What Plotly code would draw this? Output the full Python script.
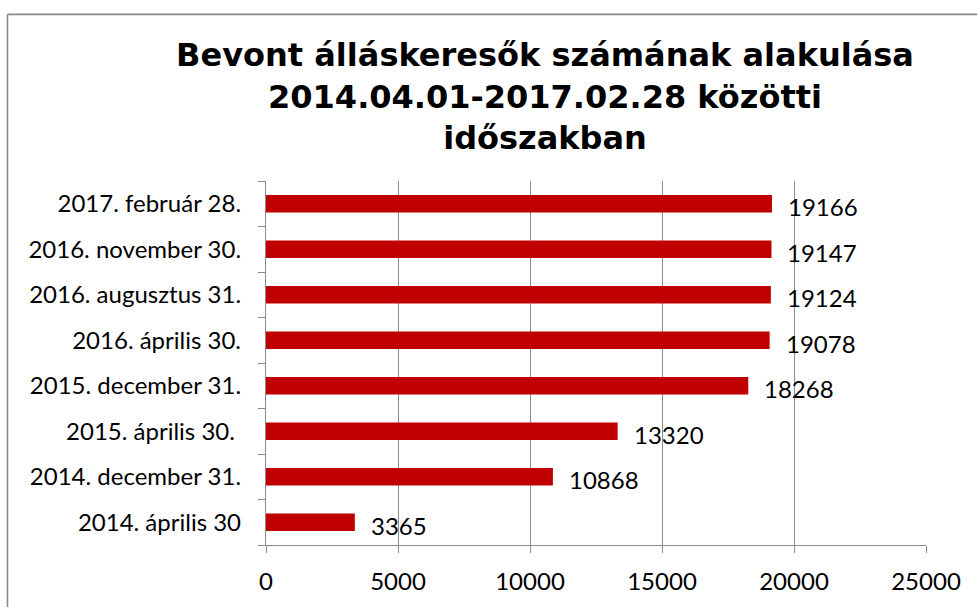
import plotly.graph_objects as go

categories = [
    "2014. április 30",
    "2014. december 31.",
    "2015. április 30. ",
    "2015. december 31.",
    "2016. április 30.",
    "2016. augusztus 31.",
    "2016. november 30.",
    "2017. február 28.",
]
values = [3365, 10868, 13320, 18268, 19078, 19124, 19147, 19166]
x_ticks = [0, 5000, 10000, 15000, 20000, 25000]

title_text = "Bevont álláskeresők számának alakulása<br>2014.04.01-2017.02.28 közötti<br>időszakban"

L, R, T, B = 266, 51, 181, 58
W, H = 977, 607
pw, ph = W - L - R, H - T - B

label_font = dict(family="Lato, Carlito, Calibri, sans-serif", size=24, color="#000000")
grid_col = "#8c8c8c"
border_col = "#8a8a8a"

fig = go.Figure()
fig.add_trace(go.Bar(
    y=categories,
    x=values,
    orientation="h",
    marker=dict(color="#C00000", line=dict(width=0)),
    hoverinfo="x+y",
))

for c, v in zip(categories, values):
    fig.add_annotation(
        x=v, y=c, xref="x", yref="y",
        text=str(v), showarrow=False,
        xanchor="left", yanchor="middle",
        xshift=14, yshift=-3,
        font=label_font,
    )

fig.update_layout(
    width=W, height=H,
    margin=dict(l=L, r=R, t=T, b=B, pad=0),
    paper_bgcolor="white",
    plot_bgcolor="white",
    bargap=0.61,
    showlegend=False,
    title=dict(
        text=title_text,
        x=545 / W, xanchor="center", xref="container",
        y=1 - 66 / H, yanchor="top", yref="container",
        font=dict(family="DejaVu Sans, Verdana, sans-serif", size=32, color="#000000", weight="bold"),
    ),
    xaxis=dict(
        range=[0, 25000],
        tickvals=x_ticks,
        ticktext=[str(t) for t in x_ticks],
        showgrid=True, gridcolor=grid_col, gridwidth=1.3,
        showline=True, linecolor=grid_col, linewidth=1.3,
        ticks="outside", ticklen=7, tickcolor=grid_col, tickwidth=1.3,
        tickfont=label_font,
        ticklabelstandoff=8,
        zeroline=False,
        fixedrange=True,
    ),
    yaxis=dict(
        type="category",
        categoryorder="array", categoryarray=categories,
        showline=True, linecolor=grid_col, linewidth=1.3,
        ticks="outside", ticklen=7, tickcolor=grid_col, tickwidth=1.3,
        tickson="boundaries",
        tickfont=label_font,
        ticklabelstandoff=19,
        showgrid=False,
        fixedrange=True,
    ),
)

# outer chart border (top and left edges visible in the frame)
x_left = (7.5 - L) / pw
y_top = ((H - B) - 12.5) / ph
fig.add_shape(
    type="line", xref="paper", yref="paper",
    x0=x_left, x1=(W + 10 - L) / pw, y0=y_top, y1=y_top,
    line=dict(color=border_col, width=1.6),
    layer="above",
)
fig.add_shape(
    type="line", xref="paper", yref="paper",
    x0=x_left, x1=x_left, y0=y_top, y1=-(B + 10) / ph,
    line=dict(color=border_col, width=1.6),
    layer="above",
)

fig.write_html(
    "out.html",
    config={"displayModeBar": False},
    post_script="document.body.style.margin='0';document.body.style.overflow='hidden';",
)
